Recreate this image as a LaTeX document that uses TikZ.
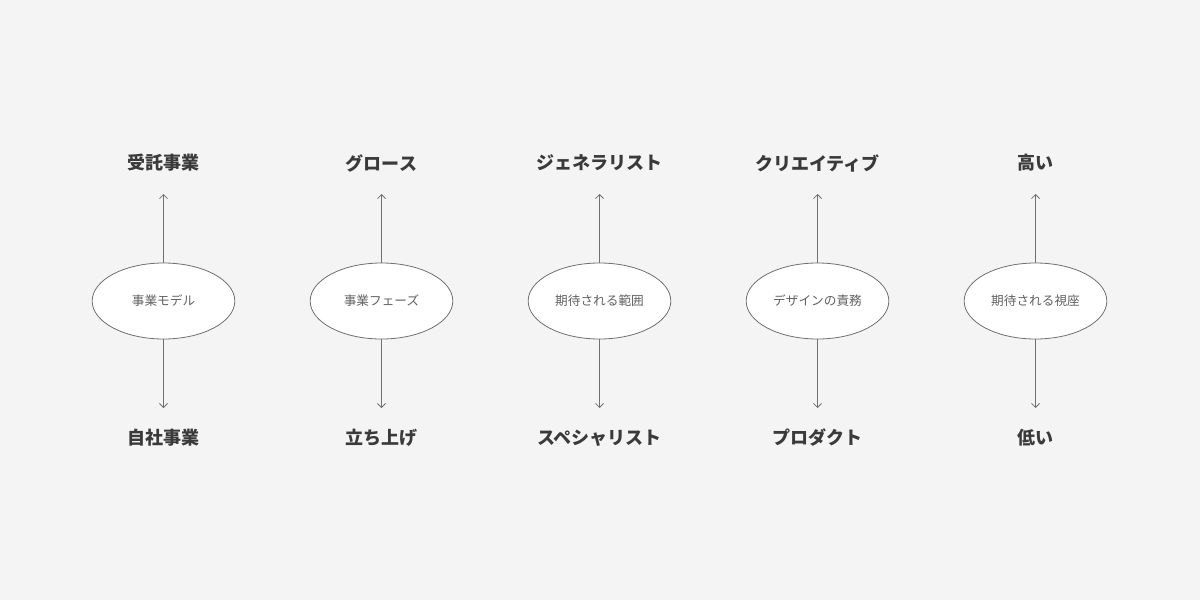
\documentclass[tikz,border=0pt]{standalone}
\usepackage{fontspec}
\newfontfamily\cjk{Noto Sans CJK JP}
\newfontfamily\cjkb{Noto Sans CJK JP Bold}
\usetikzlibrary{shapes.geometric,arrows.meta}
\definecolor{bg}{HTML}{F4F4F4}
\definecolor{txt}{HTML}{3A3A3A}
\definecolor{ln}{HTML}{707070}
\begin{document}
\begin{tikzpicture}[x=0.75pt,y=-0.75pt,
  ov/.style={ellipse,draw=ln,line width=0.6pt,fill=white,minimum width=107pt,minimum height=57pt,inner sep=0pt,font=\cjk\fontsize{9.5}{11}\selectfont,text=txt!80},
  lab/.style={font=\cjk\bfseries\fontsize{13.5}{16}\selectfont,text=txt},
  arr/.style={draw=ln,line width=0.6pt,-{Straight Barb[length=3pt,width=6pt]}}]
\fill[bg] (0,0) rectangle (1200,600);
\useasboundingbox (0,0) rectangle (1200,600);
\foreach \i/\x/\t/\m/\b in {1/163.5/受託事業/事業モデル/自社事業,2/381.5/グロース/事業フェーズ/立ち上げ,3/599.5/ジェネラリスト/期待される範囲/スペシャリスト,4/817.5/クリエイティブ/デザインの責務/プロダクト,5/1035.5/高い/期待される視座/低い}{
  \node[ov] (e\i) at (\x,301) {\m};
  \node[lab] (t\i) at (\x,163) {\t};
  \node[lab] (b\i) at (\x,438) {\b};
  \coordinate (u\i) at (\x,194);
  \coordinate (d\i) at (\x,408);
  \draw[arr] (e\i.north) -- (u\i);
  \draw[arr] (e\i.south) -- (d\i);
}
\end{tikzpicture}
\end{document}
